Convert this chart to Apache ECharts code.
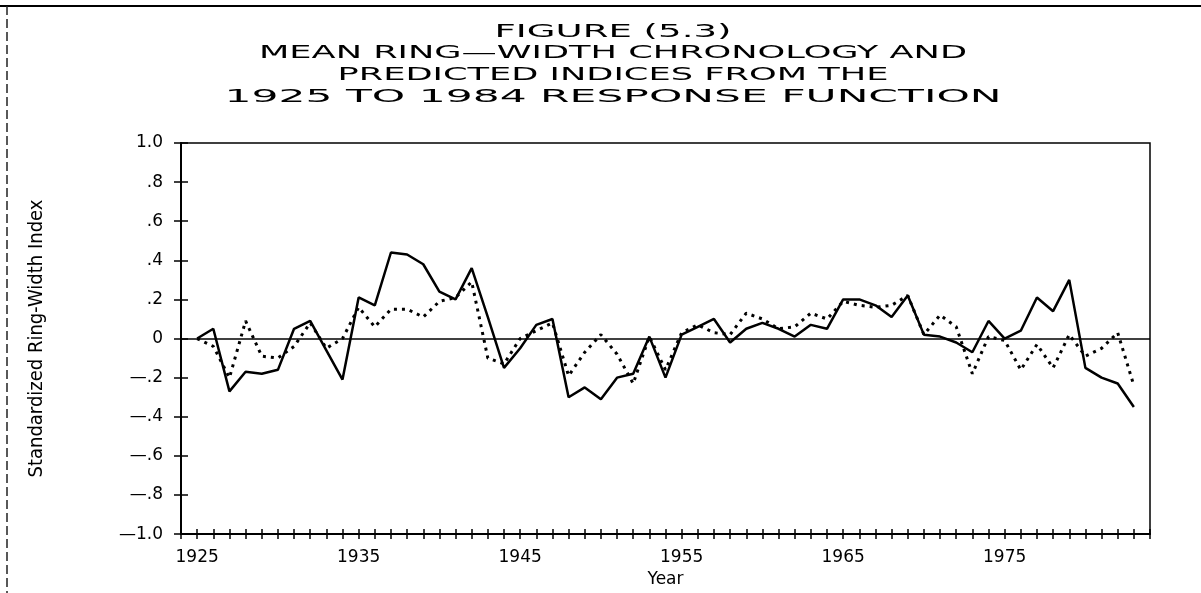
<!DOCTYPE html>
<html>
<head>
<meta charset="utf-8">
<script src="https://cdn.jsdelivr.net/npm/echarts@6/dist/echarts.min.js"></script>
<style>
html,body{margin:0;padding:0;background:#fff;}
#c{width:1201px;height:593px;}
</style>
</head>
<body>
<div id="c"></div>
<script>
// ---------- data ----------
const years = [1925,1926,1927,1928,1929,1930,1931,1932,1933,1934,
               1935,1936,1937,1938,1939,1940,1941,1942,1943,1944,
               1945,1946,1947,1948,1949,1950,1951,1952,1953,1954,
               1955,1956,1957,1958,1959,1960,1961,1962,1963,1964,
               1965,1966,1967,1968,1969,1970,1971,1972,1973,1974,
               1975,1976,1977,1978,1979,1980,1981,1982,1983];
// mean ring-width chronology (solid)
const actualIndex = [0.00,0.05,-0.27,-0.17,-0.18,-0.16,0.05,0.09,-0.06,-0.21,
                     0.21,0.17,0.44,0.43,0.38,0.24,0.20,0.36,0.11,-0.15,
                     -0.05,0.07,0.10,-0.30,-0.25,-0.31,-0.20,-0.18,0.01,-0.20,
                     0.02,0.06,0.10,-0.02,0.05,0.08,0.05,0.01,0.07,0.05,
                     0.20,0.20,0.17,0.11,0.22,0.02,0.01,-0.02,-0.07,0.09,
                     0.00,0.04,0.21,0.14,0.30,-0.15,-0.20,-0.23,-0.35];
// predicted indices (dotted)
const predictedIndex = [0.00,-0.04,-0.20,0.09,-0.09,-0.10,-0.04,0.08,-0.05,0.00,
                        0.16,0.06,0.15,0.15,0.11,0.19,0.21,0.29,-0.10,-0.13,
                        0.00,0.04,0.08,-0.19,-0.07,0.02,-0.08,-0.23,0.01,-0.16,
                        0.03,0.07,0.03,0.02,0.13,0.10,0.05,0.06,0.13,0.10,
                        0.19,0.17,0.16,0.17,0.22,0.02,0.12,0.06,-0.18,0.01,
                        -0.01,-0.16,-0.03,-0.15,0.02,-0.09,-0.05,0.03,-0.24];
const yTickValues = [-1.0,-0.8,-0.6,-0.4,-0.2,0,0.2,0.4,0.6,0.8,1.0];
const yTickLabels = ['\u20141.0','\u2014.8','\u2014.6','\u2014.4','\u2014.2','0','.2','.4','.6','.8','1.0'];
const xLabelYears = [1925,1935,1945,1955,1965,1975];
const titleLines = ['FIGURE (5.3)','MEAN RING\u2014WIDTH CHRONOLOGY AND','PREDICTED INDICES FROM THE','1925 TO 1984 RESPONSE FUNCTION'];
const yAxisTitle = 'Standardized Ring-Width Index';
const xAxisTitle = 'Year';

// ---------- layout ----------
const TITLE_FONT = '18px "DejaVu Sans"';
const titleY = [32, 53, 75, 97];
const titleW = [237, 708, 551, 777];
const mctx = document.createElement('canvas').getContext('2d');
mctx.font = TITLE_FONT;
const titleGraphics = titleLines.map((t, i) => ({
  type: 'text', x: 613, y: titleY[i],
  scaleX: titleW[i] / mctx.measureText(t).width,
  silent: true,
  style: { text: t, font: TITLE_FONT, fill: '#000',
           textAlign: 'center', textVerticalAlign: 'middle',
           align: 'center', verticalAlign: 'middle' }
}));

const pair = arr => years.map((y, i) => [y, arr[i]]);
const yLab = v => {
  const k = Math.round(v * 10) / 10;
  const idx = yTickValues.findIndex(t => Math.abs(t - k) < 1e-6);
  return idx >= 0 ? yTickLabels[idx] : '';
};
const xLab = v => {
  const r = Math.round(v);
  return xLabelYears.indexOf(r) >= 0 ? String(r) : '';
};
const lab = { color: '#000', fontFamily: 'DejaVu Sans', fontSize: 17 };

const chart = echarts.init(document.getElementById('c'), null, { renderer: 'canvas' });
chart.setOption({
  animation: false,
  backgroundColor: '#fff',
  grid: { left: 181, right: 51, top: 143, bottom: 56, show: true,
          borderColor: '#000', borderWidth: 1.5, backgroundColor: 'transparent' },
  xAxis: [
    { type: 'value', min: 1924, max: 1984, interval: 1, position: 'bottom',
      axisLine: { show: true, onZero: false, lineStyle: { color: '#000', width: 2 } },
      axisTick: { show: true, length: 5, lineStyle: { color: '#000', width: 1.5 } },
      axisLabel: Object.assign({ formatter: xLab, margin: 15 }, lab),
      splitLine: { show: false },
      name: xAxisTitle, nameLocation: 'middle', nameGap: 36,
      nameTextStyle: { color: '#000', fontFamily: 'DejaVu Sans', fontSize: 17 } },
    { type: 'value', min: 1924, max: 1984, interval: 1, position: 'bottom', offset: 0,
      axisLine: { show: false, onZero: false },
      axisTick: { show: true, inside: true, length: 5, lineStyle: { color: '#000', width: 1.5 } },
      axisLabel: { show: false }, splitLine: { show: false } }
  ],
  yAxis: [
    { type: 'value', min: -1, max: 1, interval: 0.2, position: 'left',
      axisLine: { show: true, onZero: false, lineStyle: { color: '#000', width: 2 } },
      axisTick: { show: true, length: 7, lineStyle: { color: '#000', width: 1.5 } },
      axisLabel: Object.assign({ formatter: yLab, margin: 18 }, lab),
      splitLine: { show: false },
      name: yAxisTitle, nameLocation: 'middle', nameGap: 134,
      nameTextStyle: { color: '#000', fontFamily: '"DejaVu Sans Condensed", "DejaVu Sans"', fontSize: 20 } },
    { type: 'value', min: -1, max: 1, interval: 0.2, position: 'left', offset: 0,
      axisLine: { show: false, onZero: false },
      axisTick: { show: true, inside: true, length: 7, lineStyle: { color: '#000', width: 1.5 } },
      axisLabel: { show: false }, splitLine: { show: false } }
  ],
  graphic: [
    { type: 'line', silent: true, shape: { x1: 0, y1: 6, x2: 1201, y2: 6 },
      style: { stroke: '#000', lineWidth: 2 } },
    { type: 'line', silent: true, shape: { x1: 7, y1: 6, x2: 7, y2: 593 },
      style: { stroke: '#222', lineWidth: 1.5, lineDash: [9, 4] } }
  ].concat(titleGraphics),
  series: [
    { name: 'Predicted', type: 'line', xAxisIndex: 0, yAxisIndex: 0,
      data: pair(predictedIndex), showSymbol: false, symbol: 'none',
      lineStyle: { color: '#000', width: 3, type: [3, 5] }, z: 3 },
    { name: 'Chronology', type: 'line', xAxisIndex: 0, yAxisIndex: 0,
      data: pair(actualIndex), showSymbol: false, symbol: 'none',
      lineStyle: { color: '#000', width: 2.5, type: 'solid' }, z: 4,
      markLine: { silent: true, symbol: 'none', label: { show: false },
                  lineStyle: { color: '#000', type: 'solid', width: 1.5 },
                  data: [{ yAxis: 0 }] } }
  ]
});
</script>
</body>
</html>
